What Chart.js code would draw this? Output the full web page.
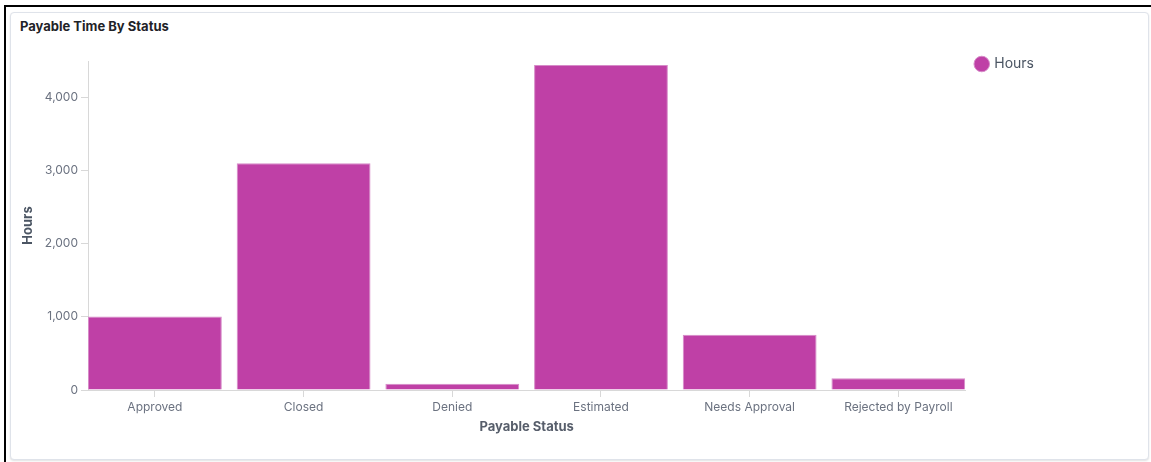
<!DOCTYPE html>
<html>
<head>
<meta charset="utf-8">
<script src="https://cdn.jsdelivr.net/npm/chart.js@4/dist/chart.umd.min.js"></script>
<style>
    body { margin: 0; width: 1151px; height: 462px; overflow: hidden; background: #fff; font-family: Inter, "Noto Sans", sans-serif; }
    .frame { position: absolute; left: 4px; top: 5px; right: 0; bottom: 0; border-top: 2px solid #000; border-left: 2px solid #000; }
    .card { position: absolute; left: 10px; top: 12px; width: 1137px; height: 446px; border: 1px solid #dfe3ea; border-radius: 4px; box-shadow: 0 1px 2px rgba(0, 0, 0, 0.12); background: #fff; }
    .title { position: absolute; left: 20px; top: 18px; font-size: 13px; font-weight: 700; color: #1f2328; }
    .chart-box { position: absolute; left: 11px; top: 46px; width: 1137px; height: 412px; }
</style>
</head>
<body>
<div class="frame"></div>
<div class="card"></div>
<div class="title">Payable Time By Status</div>
<div class="chart-box"><canvas id="chart-payable" width="1137" height="412"></canvas></div>
<script>
    const categories = ['Approved', 'Closed', 'Denied', 'Estimated', 'Needs Approval', 'Rejected by Payroll'];
    const hours = [1005, 3100, 85, 4445, 755, 160];
    const yTickValues = [0, 1000, 2000, 3000, 4000];
    const yMax = 4500;

    const barColor = '#bf40a6';
    const axisColor = '#d8d8d8';
    const labelColor = '#6b7280';
    const titleColor = '#575e6b';

    // bars sit on index positions of a linear axis so the first one starts right at the y axis
    const points = hours.map((value, i) => ({ x: i, y: value }));

    new Chart(document.getElementById('chart-payable'), {
        type: 'bar',
        data: {
            datasets: [{
                label: 'Hours',
                data: points,
                backgroundColor: barColor,
                borderColor: '#d68bc8',
                borderWidth: 1,
                borderSkipped: 'bottom',
                barPercentage: 0.9,
                categoryPercentage: 1
            }]
        },
        options: {
            responsive: false,
            animation: false,
            layout: {
                padding: { left: 5, right: 104, top: 0, bottom: 19 }
            },
            plugins: {
                tooltip: { enabled: false },
                legend: {
                    position: 'right',
                    align: 'start',
                    labels: {
                        usePointStyle: true,
                        pointStyle: 'circle',
                        boxWidth: 11,
                        boxHeight: 11,
                        padding: 11,
                        color: '#4b5563',
                        font: { family: 'Inter', size: 14 }
                    }
                }
            },
            scales: {
                x: {
                    type: 'linear',
                    offset: false,
                    min: -0.45,
                    max: categories.length - 0.55,
                    afterBuildTicks: function (scale) {
                        scale.ticks = scale.ticks.filter(t => Number.isInteger(t.value));
                    },
                    afterFit: function (scale) {
                        scale.height = 49;
                    },
                    ticks: {
                        stepSize: 1,
                        autoSkip: false,
                        maxRotation: 0,
                        padding: 3,
                        color: labelColor,
                        font: { family: 'Inter', size: 12 },
                        callback: function (value) {
                            return Number.isInteger(value) ? categories[value] : '';
                        }
                    },
                    grid: { display: true, offset: false, drawOnChartArea: false, tickLength: 7, color: axisColor },
                    border: { color: axisColor },
                    title: {
                        display: true,
                        text: 'Payable Status',
                        color: titleColor,
                        font: { family: 'Inter', size: 13, weight: 'bold' }
                    }
                },
                y: {
                    min: 0,
                    max: yMax,
                    afterBuildTicks: function (scale) {
                        scale.ticks = yTickValues.map(v => ({ value: v }));
                    },
                    afterFit: function (scale) {
                        scale.width = 72;
                        scale.paddingTop = 15;
                    },
                    ticks: {
                        autoSkip: false,
                        padding: 3,
                        color: labelColor,
                        font: { family: 'Inter', size: 12 },
                        callback: function (value) {
                            return value.toLocaleString('en-US');
                        }
                    },
                    grid: { display: true, drawOnChartArea: false, tickLength: 7, color: axisColor },
                    border: { color: axisColor },
                    title: {
                        display: true,
                        text: 'Hours',
                        color: '#4b5563',
                        font: { family: 'Inter', size: 13, weight: 'bold' }
                    }
                }
            }
        }
    });
</script>
</body>
</html>
